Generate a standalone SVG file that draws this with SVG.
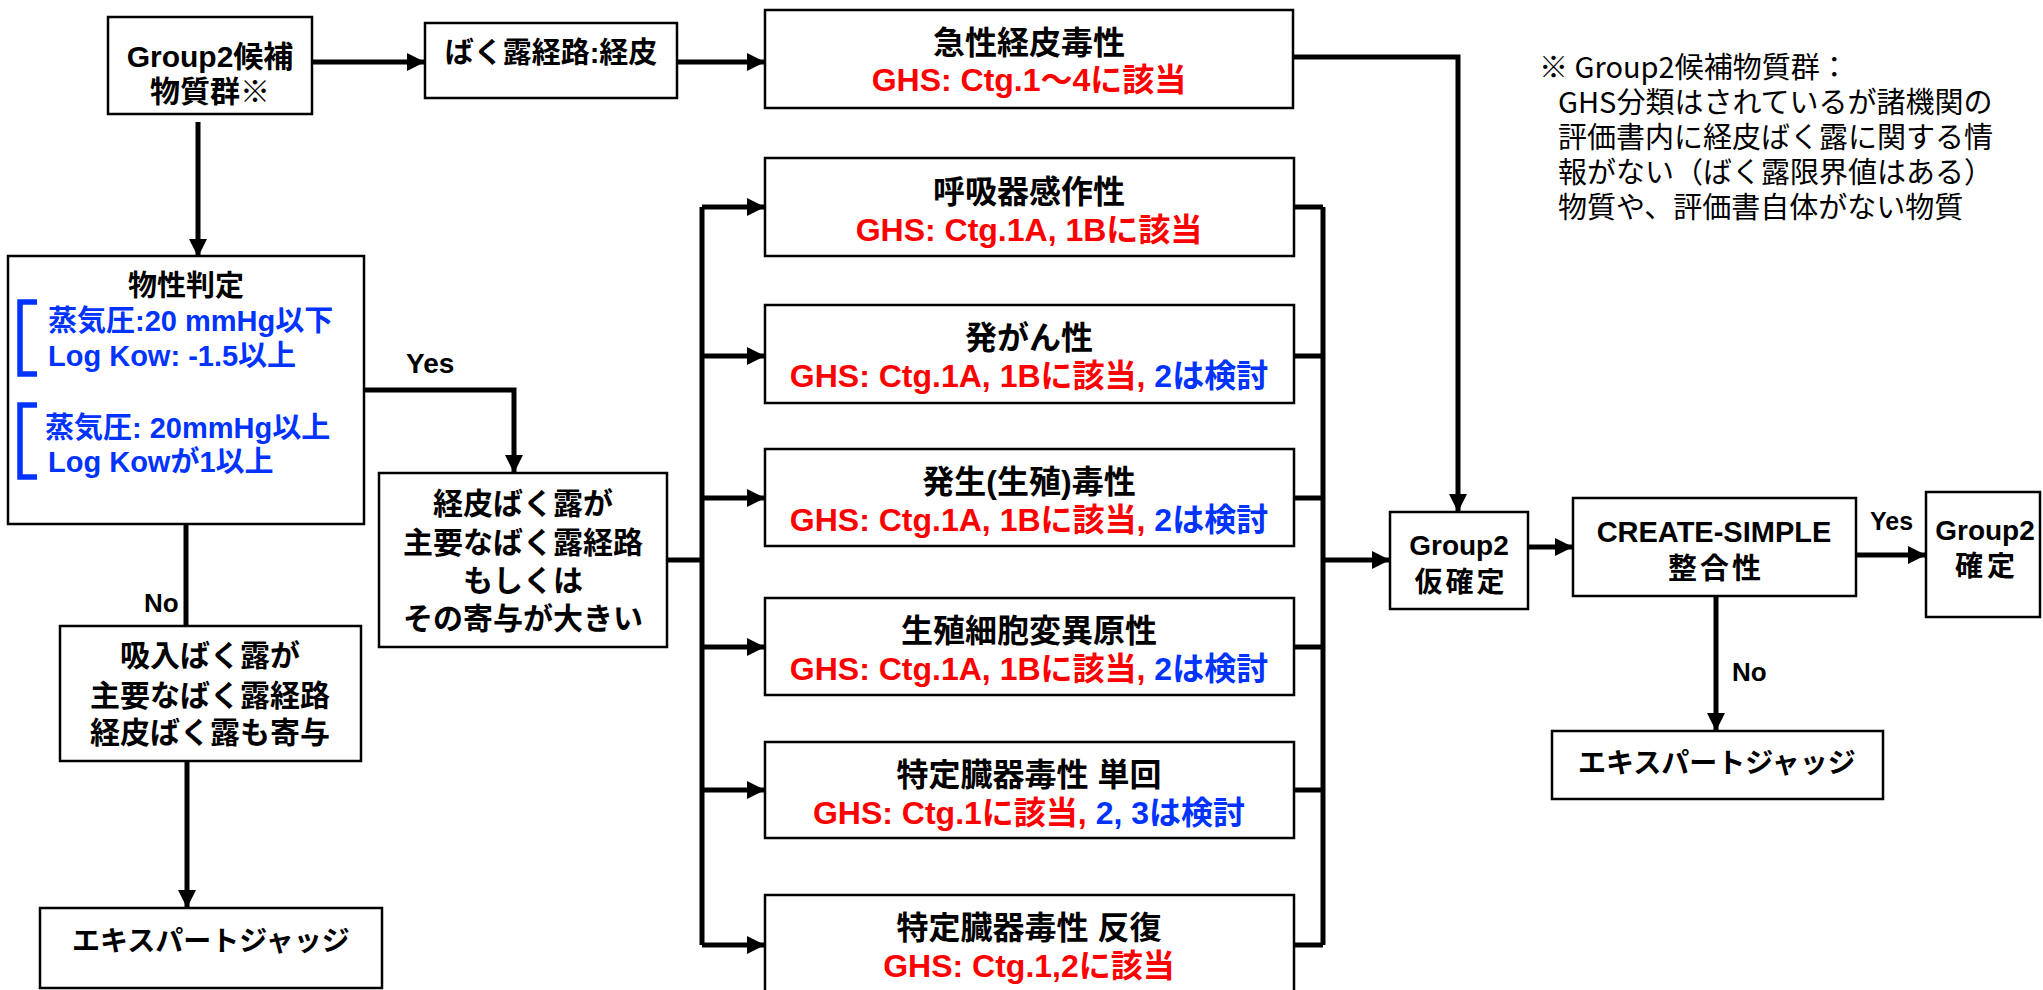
<svg xmlns="http://www.w3.org/2000/svg" width="2043" height="990" viewBox="0 0 2043 990">
<defs>
<style>
.box{fill:#fff;stroke:#000;stroke-width:2.5}
.t{font-family:"Liberation Sans","Noto Sans CJK JP",sans-serif;font-weight:bold;fill:#000;text-anchor:middle}
.r{fill:#FF0000}
.bl{fill:#0033FF}
.lbl{font-family:"Liberation Sans","Noto Sans CJK JP",sans-serif;font-weight:bold;fill:#000}
.note{font-family:"Noto Sans CJK JP",sans-serif;font-size:29px;fill:#000}
.c{fill:none;stroke:#000;stroke-width:5}
.brk{fill:none;stroke:#0033FF;stroke-width:5.5}
</style>
<marker id="ah" markerUnits="userSpaceOnUse" markerWidth="18" markerHeight="18" refX="18" refY="9" orient="auto">
<path d="M0,0 L18,9 L0,18 z" fill="#000"/>
</marker>
</defs>

<g id="connectors">
<path class="c" d="M312,62 H425" marker-end="url(#ah)"/>
<path class="c" d="M677,62 H765" marker-end="url(#ah)"/>
<path class="c" d="M198,122 V257" marker-end="url(#ah)"/>
<path class="c" d="M364,390 H514 V473" marker-end="url(#ah)"/>
<path class="c" d="M186,524 V626"/>
<path class="c" d="M187,762 V908" marker-end="url(#ah)"/>
<path class="c" d="M667,560 H702"/>
<path class="c" d="M702,207 V945"/>
<path class="c" d="M702,207 H765" marker-end="url(#ah)"/>
<path class="c" d="M702,356 H765" marker-end="url(#ah)"/>
<path class="c" d="M702,498 H765" marker-end="url(#ah)"/>
<path class="c" d="M702,647 H765" marker-end="url(#ah)"/>
<path class="c" d="M702,790 H765" marker-end="url(#ah)"/>
<path class="c" d="M702,945 H765" marker-end="url(#ah)"/>
<path class="c" d="M1294,207 H1323 M1294,356 H1323 M1294,498 H1323 M1294,647 H1323 M1294,790 H1323 M1294,945 H1323"/>
<path class="c" d="M1323,207 V945"/>
<path class="c" d="M1323,560 H1390" marker-end="url(#ah)"/>
<path class="c" d="M1293,57 H1458 V512" marker-end="url(#ah)"/>
<path class="c" d="M1528,547 H1573" marker-end="url(#ah)"/>
<path class="c" d="M1856,555 H1926" marker-end="url(#ah)"/>
<path class="c" d="M1716,596 V731" marker-end="url(#ah)"/>
<text class="lbl" x="406" y="373" font-size="28">Yes</text>
<text class="lbl" x="144" y="612" font-size="26">No</text>
<text class="lbl" x="1870" y="530" font-size="25">Yes</text>
<text class="lbl" x="1732" y="681" font-size="26">No</text>
</g>

<g id="n-group2-cand">
<rect class="box" x="108" y="17" width="204" height="97"/>
<text class="t" x="210" y="67" font-size="30">Group2候補</text>
<text class="t" x="210" y="102" font-size="30">物質群※</text>
</g>

<g id="n-route">
<rect class="box" x="425" y="23" width="252" height="75"/>
<text class="t" x="551" y="63" font-size="29">ばく露経路:経皮</text>
</g>

<g id="n-acute">
<rect class="box" x="765" y="10" width="528" height="98"/>
<text class="t" x="1029" y="54" font-size="32">急性経皮毒性</text>
<text class="t r" x="1029" y="91" font-size="32">GHS: Ctg.1～4に該当</text>
</g>

<g id="n-resp">
<rect class="box" x="765" y="158" width="529" height="98"/>
<text class="t" x="1029" y="203" font-size="32">呼吸器感作性</text>
<text class="t r" x="1029" y="241" font-size="32">GHS: Ctg.1A, 1Bに該当</text>
</g>

<g id="n-carc">
<rect class="box" x="765" y="305" width="529" height="98"/>
<text class="t" x="1029" y="349" font-size="32">発がん性</text>
<text class="t" x="1029" y="387" font-size="32"><tspan class="r">GHS: Ctg.1A, 1Bに該当, </tspan><tspan class="bl">2は検討</tspan></text>
</g>

<g id="n-repro">
<rect class="box" x="765" y="449" width="529" height="97"/>
<text class="t" x="1029" y="493" font-size="32">発生(生殖)毒性</text>
<text class="t" x="1029" y="531" font-size="32"><tspan class="r">GHS: Ctg.1A, 1Bに該当, </tspan><tspan class="bl">2は検討</tspan></text>
</g>

<g id="n-muta">
<rect class="box" x="765" y="598" width="529" height="97"/>
<text class="t" x="1029" y="642" font-size="32">生殖細胞変異原性</text>
<text class="t" x="1029" y="680" font-size="32"><tspan class="r">GHS: Ctg.1A, 1Bに該当, </tspan><tspan class="bl">2は検討</tspan></text>
</g>

<g id="n-stot-single">
<rect class="box" x="765" y="742" width="529" height="96"/>
<text class="t" x="1029" y="786" font-size="32">特定臓器毒性 単回</text>
<text class="t" x="1029" y="824" font-size="32"><tspan class="r">GHS: Ctg.1に該当, </tspan><tspan class="bl">2, 3は検討</tspan></text>
</g>

<g id="n-stot-rep">
<rect class="box" x="765" y="895" width="529" height="98"/>
<text class="t" x="1029" y="939" font-size="32">特定臓器毒性 反復</text>
<text class="t r" x="1029" y="977" font-size="32">GHS: Ctg.1,2に該当</text>
</g>

<g id="n-phys">
<rect class="box" x="8" y="256" width="356" height="268"/>
<text class="t" x="186" y="296" font-size="29">物性判定</text>
<path class="brk" d="M37,302 H20 V374 H37"/>
<text class="t bl" x="48" y="331" font-size="29" style="text-anchor:start">蒸気圧:20 mmHg以下</text>
<text class="t bl" x="48" y="366" font-size="29" style="text-anchor:start">Log Kow: -1.5以上</text>
<path class="brk" d="M37,405 H20 V477 H37"/>
<text class="t bl" x="45" y="438" font-size="29" style="text-anchor:start">蒸気圧: 20mmHg以上</text>
<text class="t bl" x="48" y="472" font-size="29" style="text-anchor:start">Log Kowが1以上</text>
</g>

<g id="n-dermal">
<rect class="box" x="379" y="473" width="288" height="174"/>
<text class="t" x="523" y="514" font-size="30">経皮ばく露が</text>
<text class="t" x="523" y="553" font-size="30">主要なばく露経路</text>
<text class="t" x="523" y="591" font-size="30">もしくは</text>
<text class="t" x="523" y="629" font-size="30">その寄与が大きい</text>
</g>

<g id="n-inhal">
<rect class="box" x="60" y="626" width="301" height="135"/>
<text class="t" x="210" y="666" font-size="30">吸入ばく露が</text>
<text class="t" x="210" y="706" font-size="30">主要なばく露経路</text>
<text class="t" x="210" y="743" font-size="30">経皮ばく露も寄与</text>
</g>

<g id="n-expert1">
<rect class="box" x="40" y="908" width="342" height="80"/>
<text class="t" x="211" y="951" font-size="28">エキスパートジャッジ</text>
</g>

<g id="n-tentative">
<rect class="box" x="1390" y="512" width="138" height="97"/>
<text class="t" x="1459" y="555" font-size="28">Group2</text>
<text class="t" x="1461" y="592" font-size="28" letter-spacing="3">仮確定</text>
</g>

<g id="n-create">
<rect class="box" x="1573" y="498" width="283" height="98"/>
<text class="t" x="1714" y="542" font-size="29">CREATE-SIMPLE</text>
<text class="t" x="1716" y="579" font-size="29" letter-spacing="3">整合性</text>
</g>

<g id="n-confirmed">
<rect class="box" x="1926" y="492" width="114" height="125"/>
<text class="t" x="1985" y="540" font-size="28">Group2</text>
<text class="t" x="1987" y="576" font-size="28" letter-spacing="4">確定</text>
</g>

<g id="n-expert2">
<rect class="box" x="1552" y="731" width="331" height="68"/>
<text class="t" x="1717" y="773" font-size="28">エキスパートジャッジ</text>
</g>

<g id="note">
<text class="note" x="1539" y="78">※ Group2候補物質群：</text>
<text class="note" x="1558" y="113">GHS分類はされているが諸機関の</text>
<text class="note" x="1558" y="148">評価書内に経皮ばく露に関する情</text>
<text class="note" x="1558" y="183">報がない（ばく露限界値はある）</text>
<text class="note" x="1558" y="218">物質や、評価書自体がない物質</text>
</g>
</svg>
